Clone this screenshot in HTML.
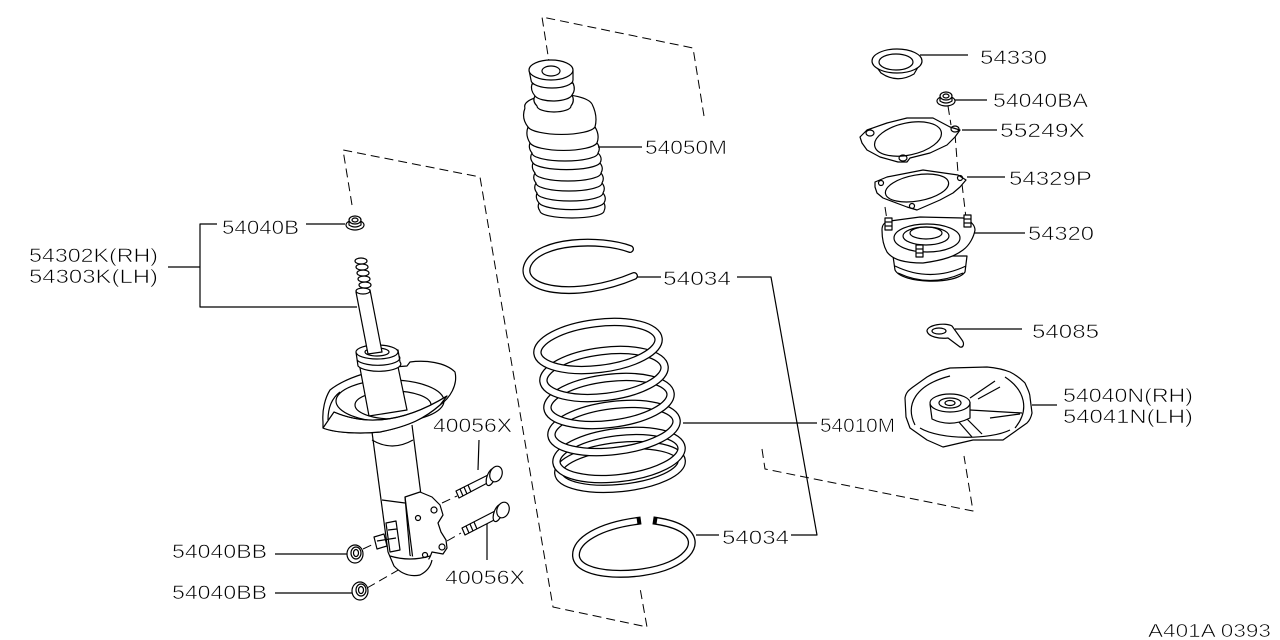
<!DOCTYPE html>
<html><head><meta charset="utf-8"><style>
html,body{margin:0;padding:0;background:#fff;}
svg{display:block;}
text{font-family:"Liberation Sans",sans-serif;font-size:19px;fill:#000;stroke:#fff;stroke-width:0.6px;paint-order:normal;}
</style></head><body>
<svg width="1280" height="640" viewBox="0 0 1280 640" xmlns="http://www.w3.org/2000/svg">
<g fill="none" stroke="#000" stroke-width="1.2" stroke-linejoin="round">

<!-- dashed frames -->
<g stroke-dasharray="9 5" stroke-width="1">
<polyline points="352,205 343,150 480,177 553,607 647,627 640,588"/>
<polyline points="550,68 542,17 693,48 704,116"/>
<polyline points="762,449 765,469 973,511 964,456"/>
<line x1="948" y1="106" x2="951" y2="125"/>
<line x1="955" y1="134" x2="958" y2="173"/>
<line x1="962" y1="184" x2="966" y2="218"/>
<line x1="885" y1="207" x2="887" y2="220"/>
<line x1="442" y1="503" x2="457" y2="496"/>
<line x1="447" y1="541" x2="461" y2="533"/>
<line x1="363" y1="549" x2="378" y2="542"/>
<line x1="367" y1="588" x2="400" y2="569"/>
</g>

<!-- leaders -->
<line x1="920" y1="55" x2="968" y2="55"/>
<line x1="955" y1="100" x2="987" y2="100"/>
<line x1="962" y1="130" x2="997" y2="130"/>
<line x1="967" y1="177" x2="1005" y2="177"/>
<line x1="972" y1="233" x2="1025" y2="233"/>
<line x1="955" y1="329" x2="1022" y2="329"/>
<line x1="1032" y1="405" x2="1057" y2="405"/>
<line x1="683" y1="423" x2="817" y2="423"/>
<line x1="637" y1="277" x2="661" y2="277"/>
<polyline points="737,277 771,277 817,535 791,535"/>
<line x1="696" y1="535" x2="719" y2="535"/>
<line x1="598" y1="147" x2="642" y2="147"/>
<line x1="168" y1="267" x2="200" y2="267"/>
<polyline points="217,224 200,224 200,307 357,307"/>
<line x1="306" y1="224" x2="345" y2="224"/>
<line x1="479" y1="440" x2="478" y2="470"/>
<line x1="487" y1="523" x2="487" y2="560"/>
<line x1="275" y1="554" x2="347" y2="554"/>
<line x1="275" y1="593" x2="352" y2="593"/>

<!-- cap 54330 -->
<path d="M873,62 L881,73 Q897,84 914,74 L921,62 Z" fill="#fff"/>
<ellipse cx="897" cy="61" rx="25" ry="12" fill="#fff"/>
<ellipse cx="896" cy="62" rx="17" ry="8"/>

<!-- nut 54040BA -->
<ellipse cx="946" cy="101" rx="9" ry="5" fill="#fff"/>
<path d="M940,97 L940,101 Q946,105 952,101 L952,97" fill="#fff"/>
<ellipse cx="946" cy="96" rx="6" ry="4" fill="#fff"/>
<ellipse cx="946" cy="96" rx="3" ry="2"/>

<!-- gasket 55249X -->
<path d="M862,143 L860,137 L867,130 L887,123 L907,118 L933,118 L950,127 L960,130 L955,137 L947,145 L930,153 L910,158 L907,162 L898,162 L880,157 L867,150 Z" fill="#fff"/>
<ellipse cx="908" cy="139" rx="34" ry="16" transform="rotate(-12 908 139)"/>
<ellipse cx="870" cy="133" rx="4" ry="3"/>
<ellipse cx="955" cy="129" rx="4" ry="3"/>
<ellipse cx="903" cy="158" rx="4" ry="3"/>

<!-- plate 54329P -->
<path d="M875,187 L875,182 L887,177 L923,170 L958,175 L966,180 L960,187 L953,193 L940,200 L917,210 L907,207 L883,198 L877,193 Z" fill="#fff"/>
<ellipse cx="917" cy="188" rx="32" ry="13" transform="rotate(-10 917 188)"/>
<circle cx="881" cy="183" r="2.5"/>
<circle cx="960" cy="178" r="2.5"/>
<circle cx="912" cy="206" r="2.5"/>

<!-- mount 54320 -->
<path d="M893,256 L895,270 C902,284 956,285 965,272 L967,256 Z" fill="#fff"/>
<path d="M895,266 Q930,283 966,266"/>
<path d="M898,273 Q930,288 963,273"/>
<path d="M882,230 C882,225 884,222 890,221 L920,217 L963,218 C970,220 975,225 975,230 C974,236 970,245 963,250 C955,256 945,260 923,263 C905,263 893,260 887,252 C883,245 882,238 882,230 Z" fill="#fff"/>
<ellipse cx="927" cy="238" rx="33" ry="14" fill="#fff"/>
<ellipse cx="926" cy="236" rx="23" ry="9"/>
<ellipse cx="926" cy="233" rx="16" ry="6"/>
<rect x="885" y="218" width="7" height="12" fill="#fff"/>
<line x1="885" y1="222" x2="892" y2="222"/><line x1="885" y1="226" x2="892" y2="226"/>
<rect x="964" y="215" width="7" height="12" fill="#fff"/>
<line x1="964" y1="219" x2="971" y2="219"/><line x1="964" y1="223" x2="971" y2="223"/>
<rect x="916" y="245" width="7" height="12" fill="#fff"/>
<line x1="916" y1="249" x2="923" y2="249"/><line x1="916" y1="253" x2="923" y2="253"/>

<!-- bracket 54085 -->
<path d="M927,331 C927,325 945,322 952,326 L962,340 C965,344 963,348 960,347 L948,338 C940,339 928,337 927,331 Z" fill="#fff"/>
<ellipse cx="939" cy="331" rx="7" ry="3"/>

<!-- insulator 54040N -->
<path d="M905,398 C906,392 909,390 913,387 L927,377 C935,372 942,370 950,368 L987,367 C998,368 1005,370 1010,372 C1018,376 1022,380 1025,383 C1028,390 1030,393 1030,397 L1032,413 C1031,418 1029,421 1027,423 L1003,440 L973,440 L943,447 L927,440 L910,428 L906,417 Z" fill="#fff"/>
<path d="M915,425 C905,405 915,385 950,376"/>
<path d="M1005,377 C1025,390 1030,410 1015,428"/>
<path d="M920,428 C940,440 990,440 1010,430"/>
<line x1="970" y1="398" x2="995" y2="381"/>
<line x1="978" y1="399" x2="1000" y2="387"/>
<line x1="970" y1="410" x2="1022" y2="413"/>
<line x1="990" y1="418" x2="1020" y2="414"/>
<line x1="966" y1="418" x2="982" y2="434"/>
<line x1="958" y1="421" x2="972" y2="437"/>
<path d="M930,404 L932,419 Q950,428 970,418 L970,402" fill="#fff"/>
<ellipse cx="950" cy="403" rx="20" ry="9" fill="#fff"/>
<ellipse cx="950" cy="403" rx="11" ry="5"/>
<ellipse cx="950" cy="403" rx="5" ry="2.5"/>

<!-- boot 54050M -->
<path d="M525,108 A34,12 0 0 1 592,104"/>
<path d="M525,108 Q521,118 528,127 Q525,135 530,143 Q528,148 532,153 Q529,158 533,163 Q531,168 535,173 Q532,178 536,183 Q533,188 537,193 Q535,198 539,203 Q537,207 540,211"/>
<path d="M592,104 Q598,116 595,127 Q600,135 597,143 Q601,148 598,153 Q603,158 600,163 Q604,168 601,173 Q605,178 602,183 Q606,188 603,193 Q607,198 604,203 Q606,207 604,211"/>
<path d="M528,127 A34,9 0 0 0 595,127"/>
<path d="M530,143 A34,9 0 0 0 597,143"/>
<path d="M532,153 A33,8 0 0 0 598,153"/>
<path d="M533,163 A34,8 0 0 0 600,163"/>
<path d="M535,173 A33,8 0 0 0 601,173"/>
<path d="M536,183 A33,8 0 0 0 602,183"/>
<path d="M537,193 A33,8 0 0 0 603,193"/>
<path d="M539,203 A33,8 0 0 0 604,203"/>
<path d="M540,211 A32,7 0 0 0 604,211"/>
<path d="M535,96 Q532,101 537,106 A17,6 0 0 0 571,106 Q575,101 572,95 Z" fill="#fff"/>
<path d="M532,84 Q530,90 535,96 A19,7 0 0 0 572,95 Q576,90 573,83 Z" fill="#fff"/>
<path d="M529,70 L531,80 A21,8 0 0 0 573,80 L573,70 Z" fill="#fff"/>
<ellipse cx="551" cy="70" rx="22" ry="10" fill="#fff"/>
<ellipse cx="551" cy="71" rx="9" ry="5"/>

<!-- upper seat ring -->
<path d="M630,249 C600,238 540,240 528,264 C516,290 575,301 634,276" stroke-width="8" stroke-linecap="round"/>
<path d="M630,249 C600,238 540,240 528,264 C516,290 575,301 634,276" stroke="#fff" stroke-width="5.4" stroke-linecap="round"/>

<!-- spring -->
<g>
<ellipse cx="620" cy="467" rx="62" ry="21" transform="rotate(-6 620 467)" stroke-width="8.5"/>
<ellipse cx="620" cy="467" rx="62" ry="21" transform="rotate(-6 620 467)" stroke="#fff" stroke-width="6"/>
<ellipse cx="619" cy="455" rx="63" ry="23" transform="rotate(-7 619 455)" stroke-width="8.5"/>
<ellipse cx="619" cy="455" rx="63" ry="23" transform="rotate(-7 619 455)" stroke="#fff" stroke-width="6"/>
<ellipse cx="614" cy="428" rx="63" ry="23" transform="rotate(-7 614 428)" stroke-width="8.5"/>
<ellipse cx="614" cy="428" rx="63" ry="23" transform="rotate(-7 614 428)" stroke="#fff" stroke-width="6"/>
<ellipse cx="609" cy="401" rx="62" ry="23" transform="rotate(-7 609 401)" stroke-width="8.5"/>
<ellipse cx="609" cy="401" rx="62" ry="23" transform="rotate(-7 609 401)" stroke="#fff" stroke-width="6"/>
<ellipse cx="604" cy="374" rx="61" ry="23" transform="rotate(-7 604 374)" stroke-width="8.5"/>
<ellipse cx="604" cy="374" rx="61" ry="23" transform="rotate(-7 604 374)" stroke="#fff" stroke-width="6"/>
<ellipse cx="598" cy="346" rx="61" ry="23" transform="rotate(-7 598 346)" stroke-width="8.5"/>
<ellipse cx="598" cy="346" rx="61" ry="23" transform="rotate(-7 598 346)" stroke="#fff" stroke-width="6"/>
</g>

<!-- lower seat ring -->
<path d="M637,521 C600,526 575,540 576,556 C578,578 640,578 670,565 C700,552 702,528 657,521" stroke-width="8" stroke-linecap="square"/>
<path d="M637,521 C600,526 575,540 576,556 C578,578 640,578 670,565 C700,552 702,528 657,521" stroke="#fff" stroke-width="5.4" stroke-linecap="butt"/>

<!-- strut -->
<path d="M372,430 L388,552 L405,556 L412,425 Z" fill="#fff" stroke="none"/>
<line x1="372" y1="432" x2="388" y2="552"/>
<line x1="412" y1="425" x2="421" y2="495"/>
<path d="M372,440 Q392,452 413,440"/>
<line x1="382" y1="500" x2="405" y2="503"/>
<path d="M405,497 L420,492 L432,497 L440,505 L443,515 L438,523 L441,532 L446,540 L447,548 L443,554 L432,552 L430,557 L427,562 L415,565 L410,555 Z" fill="#fff"/>
<line x1="405" y1="497" x2="413" y2="560"/>
<circle cx="434" cy="510" r="3"/>
<circle cx="442" cy="547" r="3"/>
<circle cx="418" cy="518" r="2.5"/>
<circle cx="425" cy="555" r="2.5"/>
<path d="M388,552 L394,566 Q405,578 420,575 Q430,570 432,560" fill="#fff"/>
<path d="M390,556 Q410,562 430,556"/>
<path d="M386,523 L396,521 L400,550 L390,552 Z" fill="#fff"/>
<line x1="388" y1="530" x2="397" y2="529"/>
<path d="M374,537 L384,534 L387,546 L377,549 Z" fill="#fff"/>
<line x1="377" y1="541" x2="396" y2="538"/>
<path d="M323,422 C322,410 325,398 330,390 C345,378 375,368 407,366 L410,362 C425,360 445,362 455,372 C458,385 450,398 440,405 C425,418 410,426 380,432 C360,434 335,433 323,428 Z" fill="#fff"/>
<path d="M328,420 C328,408 332,398 340,392"/>
<ellipse cx="390" cy="401" rx="54" ry="21"/>
<ellipse cx="393" cy="405" rx="38" ry="14"/>
<path d="M360,368 L397,362 L407,410 L369,416 Z" fill="#fff"/>
<path d="M334,412 Q385,434 447,396 L440,405 C425,418 410,426 380,432 C360,434 335,433 323,428 Z" fill="#fff"/>
<path d="M334,412 Q385,434 447,396"/>
<path d="M356,352 L358,366 A21,7 0 0 0 400,362 L398,350 Z" fill="#fff"/>
<path d="M357,360 A21,7 0 0 0 399,356"/>
<ellipse cx="377" cy="352" rx="21" ry="7" fill="#fff"/>
<ellipse cx="377" cy="352" rx="12" ry="4" fill="#fff"/>
<path d="M356,292 L370,290 L382,352 L368,354 Z" fill="#fff"/>
<ellipse cx="363" cy="291" rx="7" ry="3" fill="#fff"/>
<ellipse cx="365" cy="285" rx="6" ry="3" fill="#fff"/>
<ellipse cx="364" cy="279" rx="6" ry="3" fill="#fff"/>
<ellipse cx="363" cy="273" rx="6" ry="3" fill="#fff"/>
<ellipse cx="362" cy="267" rx="6" ry="3" fill="#fff"/>
<ellipse cx="361" cy="261" rx="6" ry="3" fill="#fff"/>
<ellipse cx="355" cy="225" rx="9" ry="5" fill="#fff"/>
<path d="M349,221 L349,225 Q355,229 361,225 L361,221" fill="#fff"/>
<ellipse cx="355" cy="220" rx="6" ry="4" fill="#fff"/>
<ellipse cx="355" cy="220" rx="3" ry="2"/>

<!-- bolts -->
<path d="M490,474 L493,480 L459,498 L456,491 Z" fill="#fff"/>
<line x1="460" y1="489" x2="463" y2="496"/><line x1="464" y1="487" x2="467" y2="494"/><line x1="468" y1="485" x2="471" y2="492"/>
<ellipse cx="491" cy="477" rx="4" ry="9" transform="rotate(20 491 477)" fill="#fff"/>
<ellipse cx="496" cy="474" rx="6" ry="8" transform="rotate(20 496 474)" fill="#fff"/>
<path d="M497,510 L500,517 L465,535 L462,528 Z" fill="#fff"/>
<line x1="466" y1="526" x2="469" y2="533"/><line x1="470" y1="524" x2="473" y2="531"/><line x1="474" y1="522" x2="477" y2="529"/>
<ellipse cx="498" cy="513" rx="4" ry="9" transform="rotate(20 498 513)" fill="#fff"/>
<ellipse cx="503" cy="510" rx="6" ry="8" transform="rotate(20 503 510)" fill="#fff"/>

<!-- nuts 54040BB -->
<ellipse cx="355" cy="554" rx="8" ry="9" fill="#fff"/>
<ellipse cx="356" cy="553" rx="5" ry="6"/>
<ellipse cx="356" cy="553" rx="2.5" ry="3.5"/>
<ellipse cx="360" cy="591" rx="8" ry="9" fill="#fff"/>
<ellipse cx="361" cy="590" rx="5" ry="6"/>
<ellipse cx="361" cy="590" rx="2.5" ry="3.5"/>
</g>

<!-- labels -->
<text x="980" y="64" textLength="67" lengthAdjust="spacingAndGlyphs">54330</text>
<text x="993" y="107" textLength="95" lengthAdjust="spacingAndGlyphs">54040BA</text>
<text x="1000" y="137" textLength="85" lengthAdjust="spacingAndGlyphs">55249X</text>
<text x="1009" y="185" textLength="83" lengthAdjust="spacingAndGlyphs">54329P</text>
<text x="1028" y="240" textLength="66" lengthAdjust="spacingAndGlyphs">54320</text>
<text x="1032" y="338" textLength="67" lengthAdjust="spacingAndGlyphs">54085</text>
<text x="1063" y="402" textLength="130" lengthAdjust="spacingAndGlyphs">54040N(RH)</text>
<text x="1063" y="423" textLength="130" lengthAdjust="spacingAndGlyphs">54041N(LH)</text>
<text x="820" y="432" textLength="75" lengthAdjust="spacingAndGlyphs">54010M</text>
<text x="663" y="285" textLength="68" lengthAdjust="spacingAndGlyphs">54034</text>
<text x="722" y="544" textLength="67" lengthAdjust="spacingAndGlyphs">54034</text>
<text x="645" y="154" textLength="82" lengthAdjust="spacingAndGlyphs">54050M</text>
<text x="222" y="234" textLength="77" lengthAdjust="spacingAndGlyphs">54040B</text>
<text x="29" y="262" textLength="129" lengthAdjust="spacingAndGlyphs">54302K(RH)</text>
<text x="29" y="283" textLength="129" lengthAdjust="spacingAndGlyphs">54303K(LH)</text>
<text x="433" y="432" textLength="79" lengthAdjust="spacingAndGlyphs">40056X</text>
<text x="445" y="584" textLength="80" lengthAdjust="spacingAndGlyphs">40056X</text>
<text x="172" y="558" textLength="95" lengthAdjust="spacingAndGlyphs">54040BB</text>
<text x="172" y="599" textLength="95" lengthAdjust="spacingAndGlyphs">54040BB</text>
<text x="1148" y="637" textLength="123" lengthAdjust="spacingAndGlyphs" style="font-size:18px">A401A 0393</text>
</svg>
</body></html>
